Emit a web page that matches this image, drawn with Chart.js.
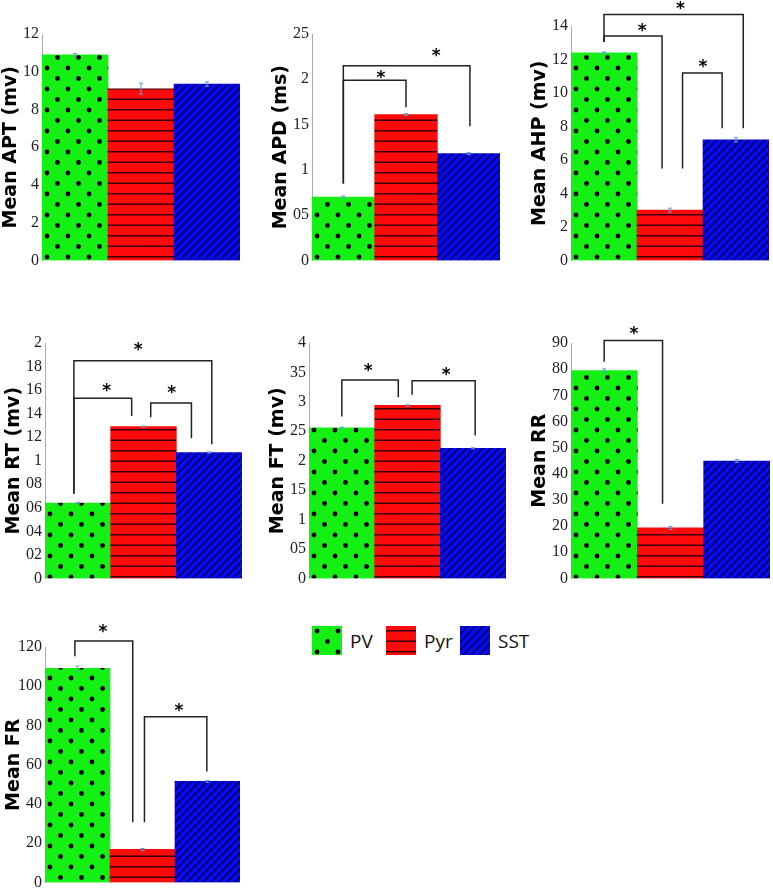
<!DOCTYPE html>
<html>
<head>
<meta charset="utf-8">
<script src="https://cdn.jsdelivr.net/npm/chart.js@4.4.0/dist/chart.umd.min.js"></script>
<style>
  body { margin: 0; background: #fff; width: 773px; height: 892px; overflow: hidden; position: relative; }
  .panel { position: absolute; }
  #legend { position: absolute; left: 312px; top: 626px; display: flex; font-family: "Open Sans", sans-serif; font-size: 19px; color: #111; }
  .item { width: 74px; display: flex; align-items: center; }
  .item canvas { margin-right: 8px; }
</style>
</head>
<body>
<div class="panel" style="left:0px;top:0px;width:240px;height:273px"><canvas id="c1"></canvas></div>
<div class="panel" style="left:270px;top:0px;width:230px;height:273px"><canvas id="c2"></canvas></div>
<div class="panel" style="left:529px;top:0px;width:240px;height:273px"><canvas id="c3"></canvas></div>
<div class="panel" style="left:3px;top:320px;width:239px;height:271px"><canvas id="c4"></canvas></div>
<div class="panel" style="left:267px;top:320px;width:239px;height:271px"><canvas id="c5"></canvas></div>
<div class="panel" style="left:529px;top:320px;width:241px;height:271px"><canvas id="c6"></canvas></div>
<div class="panel" style="left:3px;top:610px;width:237px;height:285px"><canvas id="c7"></canvas></div>
<div id="legend"></div>

<script>
// groups
const groups = ["PV", "Pyr", "SST"];

// means and error bars, one array per measure
const aptMean = [10.9, 9.1, 9.35];
const aptErr = [0.07, 0.29, 0.12];
const apdMean = [0.70, 1.61, 1.18];
const apdErr = [0.01, 0.01, 0.01];
const ahpMean = [12.4, 3.0, 7.2];
const ahpErr = [0.05, 0.12, 0.13];
const rtMean = [0.64, 1.29, 1.07];
const rtErr = [0.005, 0.005, 0.005];
const ftMean = [2.56, 2.94, 2.21];
const ftErr = [0.01, 0.01, 0.01];
const rrMean = [79.5, 19.3, 44.9];
const rrErr = [0.6, 0.6, 0.6];
const frMean = [109.1, 16.8, 51.5];
const frErr = [1.2, 0.5, 0.5];

// tick labels as printed in the figure
const aptTicks = ["0", "2", "4", "6", "8", "10", "12"];
const apdTicks = ["0", "05", "1", "15", "2", "25"];
const ahpTicks = ["0", "2", "4", "6", "8", "10", "12", "14"];
const rtTicks = ["0", "02", "04", "06", "08", "1", "12", "14", "16", "18", "2"];
const ftTicks = ["0", "05", "1", "15", "2", "25", "3", "35", "4"];
const rrTicks = ["0", "10", "20", "30", "40", "50", "60", "70", "80", "90"];
const frTicks = ["0", "20", "40", "60", "80", "100", "120"];

// significance brackets: [from, to, top, left end, right end, star x, star y]
const apdSig = [[0, 1, 1.99, 0.85, 1.69, 0.6, 2.04], [0, 2.02, 2.15, 0.85, 1.48, 1.48, 2.28]];
const ahpSig = [[0, 0.88, 13.4, 13.04, 5.49, 0.58, 13.82], [0, 2.11, 14.69, 13.04, 7.9, 1.16, 15.14], [1.19, 1.79, 11.2, 5.49, 7.9, 1.5, 11.68]];
const rtSig = [[-0.06, 0.82, 1.53, 0.72, 1.38, 0.44, 1.61], [1.11, 1.73, 1.49, 1.37, 1.19, 1.43, 1.6], [-0.06, 2.04, 1.85, 0.72, 1.14, 0.92, 1.96]];
const ftSig = [[0, 0.86, 3.37, 2.75, 3.08, 0.4, 3.57], [1.07, 2.03, 3.36, 3.12, 2.43, 1.59, 3.49]];
const rrSig = [[0, 0.88, 91, 82.8, 28.5, 0.45, 94.4]];
const frSig = [[-0.04, 0.85, 123.1, 115.3, 30.6, 0.39, 128.7], [1.03, 1.99, 84.4, 30.6, 56.5, 1.56, 88.5]];

// fill patterns
function dotPattern(ctx) {
    const t = document.createElement("canvas");
    t.width = 21; t.height = 21;
    const g = t.getContext("2d");
    g.fillStyle = "#14f014";
    g.fillRect(0, 0, 21, 21);
    g.fillStyle = "#000";
    [[5, 5], [15.5, 15.5]].forEach(([px, py]) => {
        g.beginPath();
        g.arc(px, py, 2.4, 0, Math.PI * 2);
        g.fill();
    });
    return ctx.createPattern(t, "repeat");
}

function stripePattern(ctx) {
    const t = document.createElement("canvas");
    t.width = 10; t.height = 21;
    const g = t.getContext("2d");
    g.fillStyle = "#ff0a0a";
    g.fillRect(0, 0, 10, 21);
    g.fillStyle = "#3a0000";
    g.fillRect(0, 4, 10, 1.5);
    g.fillRect(0, 14.5, 10, 1.5);
    return ctx.createPattern(t, "repeat");
}

function hatchPattern(ctx) {
    const t = document.createElement("canvas");
    t.width = 8; t.height = 8;
    const g = t.getContext("2d");
    g.fillStyle = "#0a0af2";
    g.fillRect(0, 0, 8, 8);
    g.strokeStyle = "#00007a";
    g.lineWidth = 2;
    g.beginPath();
    g.moveTo(0, 8); g.lineTo(8, 0);
    g.moveTo(-1, 1); g.lineTo(1, -1);
    g.moveTo(7, 9); g.lineTo(9, 7);
    g.stroke();
    return ctx.createPattern(t, "repeat");
}

const fills = [dotPattern, stripePattern, hatchPattern];

// error bars and brackets, drawn through the scales
const extras = {
    id: "extras",
    afterDatasetsDraw(chart, args, opts) {
        const { ctx, scales: { x, y } } = chart;
        ctx.save();
        ctx.strokeStyle = "#5b9bd5";
        ctx.lineWidth = 1;
        opts.mean.forEach((m, i) => {
            const cx = x.getPixelForValue(i);
            const lo = y.getPixelForValue(m - opts.err[i]);
            const hi = y.getPixelForValue(m + opts.err[i]);
            ctx.beginPath();
            ctx.moveTo(cx, lo); ctx.lineTo(cx, hi);
            ctx.moveTo(cx - 2, lo); ctx.lineTo(cx + 2, lo);
            ctx.moveTo(cx - 2, hi); ctx.lineTo(cx + 2, hi);
            ctx.stroke();
        });
        ctx.strokeStyle = "#222";
        ctx.lineWidth = 1.5;
        ctx.fillStyle = "#000";
        ctx.font = "bold 17px 'DejaVu Sans'";
        ctx.textAlign = "center";
        ctx.textBaseline = "middle";
        opts.sig.forEach(([a, b, top, e1, e2, sx, sy]) => {
            const x1 = x.getPixelForValue(a);
            const x2 = x.getPixelForValue(b);
            const yt = y.getPixelForValue(top);
            ctx.beginPath();
            ctx.moveTo(x1, y.getPixelForValue(e1));
            ctx.lineTo(x1, yt);
            ctx.lineTo(x2, yt);
            ctx.lineTo(x2, y.getPixelForValue(e2));
            ctx.stroke();
            ctx.fillText("*", x.getPixelForValue(sx), y.getPixelForValue(sy) + 3);
        });
        ctx.restore();
    }
};

const panels = [
    { id: "c1", title: "Mean APT (mv)", mean: aptMean, err: aptErr, max: 12, step: 2, ticks: aptTicks, sig: [], top: 34 },
    { id: "c2", title: "Mean APD (ms)", mean: apdMean, err: apdErr, max: 2.5, step: 0.5, ticks: apdTicks, sig: apdSig, top: 34 },
    { id: "c3", title: "Mean AHP (mv)", mean: ahpMean, err: ahpErr, max: 14, step: 2, ticks: ahpTicks, sig: ahpSig, top: 26 },
    { id: "c4", title: "Mean RT (mv)", mean: rtMean, err: rtErr, max: 2, step: 0.2, ticks: rtTicks, sig: rtSig, top: 23 },
    { id: "c5", title: "Mean FT (mv)", mean: ftMean, err: ftErr, max: 4, step: 0.5, ticks: ftTicks, sig: ftSig, top: 23 },
    { id: "c6", title: "Mean RR", mean: rrMean, err: rrErr, max: 90, step: 10, ticks: rrTicks, sig: rrSig, top: 23 },
    { id: "c7", title: "Mean FR", mean: frMean, err: frErr, max: 120, step: 20, ticks: frTicks, sig: frSig, top: 37 }
];

panels.forEach((p) => {
    const ctx = document.getElementById(p.id).getContext("2d");
    new Chart(ctx, {
        type: "bar",
        data: {
            labels: groups,
            datasets: [{
                data: p.mean,
                backgroundColor: fills.map((f) => f(ctx)),
                borderWidth: 0,
                barPercentage: 1,
                categoryPercentage: 1
            }]
        },
        options: {
            responsive: true,
            maintainAspectRatio: false,
            animation: false,
            layout: { padding: { top: p.top, bottom: 10, left: 0, right: 0 } },
            plugins: {
                legend: { display: false },
                tooltip: { enabled: false },
                extras: { mean: p.mean, err: p.err, sig: p.sig }
            },
            scales: {
                x: { display: false },
                y: {
                    min: 0,
                    max: p.max,
                    grid: { display: false, drawTicks: false },
                    border: { display: true, color: "#aaaaaa", width: 1 },
                    ticks: {
                        stepSize: p.step,
                        autoSkip: false,
                        padding: 3,
                        color: "#222",
                        font: { family: "'Liberation Serif', 'DejaVu Serif', serif", size: 16 },
                        callback: (v, i) => p.ticks[i]
                    },
                    title: {
                        display: true,
                        text: p.title,
                        color: "#000",
                        padding: { top: 0, bottom: 0 },
                        font: { family: "'DejaVu Sans'", size: 19, weight: "bold" }
                    },
                    afterFit: (scale) => { scale.width = 42; }
                }
            }
        },
        plugins: [extras]
    });
});

// legend
const legend = document.getElementById("legend");
groups.forEach((g, i) => {
    const item = document.createElement("div");
    item.className = "item";
    const sw = document.createElement("canvas");
    sw.width = 30; sw.height = 29;
    const sctx = sw.getContext("2d");
    sctx.fillStyle = fills[i](sctx);
    sctx.fillRect(0, 0, 30, 29);
    const label = document.createElement("span");
    label.textContent = g;
    item.appendChild(sw);
    item.appendChild(label);
    legend.appendChild(item);
});
</script>
</body>
</html>
